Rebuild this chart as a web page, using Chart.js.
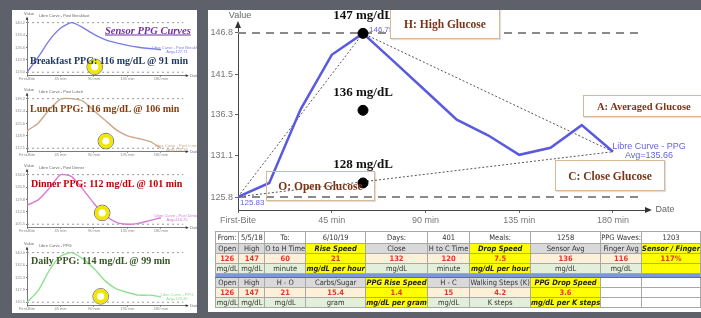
<!DOCTYPE html>
<html>
<head>
<meta charset="utf-8">
<script src="https://cdn.jsdelivr.net/npm/chart.js@4.4.1/dist/chart.umd.min.js"></script>
<style>
html, body { margin: 0; padding: 0; }
body { width: 701px; height: 318px; background: #5e6169; position: relative; overflow: hidden; font-family: "Liberation Sans", Arial, sans-serif; }
#left { position: absolute; left: 12px; top: 10px; width: 185px; height: 303px; background: #fff; overflow: hidden; }
#right { position: absolute; left: 208px; top: 10px; width: 493px; height: 302px; background: #fff; overflow: hidden; }
.mini { position: absolute; left: 0; }
.tag { position: absolute; white-space: nowrap; font-family: "Liberation Serif", "Times New Roman", serif; font-weight: bold; font-size: 10px; transform: translateY(-50%); }
.box { position: absolute; border: 1px solid #d8b797; box-shadow: 1px 1px 1px rgba(0,0,0,0.12); color: #7b3516; font-family: "Liberation Serif", "Times New Roman", serif; font-weight: bold; font-size: 11.5px; display: flex; align-items: center; justify-content: center; white-space: nowrap; }
table { position: absolute; left: 7px; top: 221px; border-collapse: collapse; table-layout: fixed; font-family: "Liberation Sans Narrow", "DejaVu Sans Condensed", sans-serif; font-size: 7.5px; color: #333; }
td { border: 1px solid #a8a8a8; padding: 0; text-align: center; height: 9px; line-height: 9px; overflow: hidden; white-space: nowrap; }
tr.info td { background: #fff; height: 11px; }
tr.head td { background: #d9d9d9; }
tr.val td { background: #fdf0d8; color: #e2362a; font-weight: bold; }
tr.unit td { background: #e2efda; }
tr td.yel { background: #ffff00; font-weight: bold; font-style: italic; color: #222; }
tr.val td.yel { color: #e2362a; font-style: normal; }
tr td.blank { background: #fff; }
tr.sep td { background: #7e97d8; height: 3px; line-height: 3px; border-top: 1px solid #4f6bbd; border-bottom: 1px solid #4f6bbd; }
</style>
</head>
<body>
<div id="left">
  <canvas id="mini1" class="mini" width="185" height="76" style="top:-1px"></canvas>
  <canvas id="mini2" class="mini" width="185" height="76" style="top:75px"></canvas>
  <canvas id="mini3" class="mini" width="185" height="76" style="top:151px"></canvas>
  <canvas id="mini4" class="mini" width="185" height="76" style="top:229px"></canvas>
  <div class="tag" style="left:93px;top:20px;color:#7030a0;font-style:italic;text-decoration:underline;font-size:10.5px;">Sensor PPG Curves</div>
  <div class="tag" style="left:18px;top:50px;color:#1f3864;">Breakfast PPG: 116 mg/dL @ 91 min</div>
  <div class="tag" style="left:18px;top:98px;color:#843c0c;">Lunch PPG: 116 mg/dL @ 106 min</div>
  <div class="tag" style="left:19px;top:173px;color:#c00000;">Dinner PPG: 112 mg/dL @ 101 min</div>
  <div class="tag" style="left:19px;top:250px;color:#375623;">Daily PPG: 114 mg/dL @ 99 min</div>
</div>
<div id="right">
  <canvas id="main" width="493" height="219" style="position:absolute;left:0;top:0"></canvas>
  <div class="box" style="left:182px;top:-2px;width:108px;height:29px;background:#fff;">H: High Glucose</div>
  <div class="box" style="left:58px;top:161px;width:107px;height:28px;">O: Open Glucose</div>
  <div class="box" style="left:375px;top:85px;width:130px;height:22px;background:#fff;font-size:10.5px;justify-content:flex-start;padding-left:13px;box-sizing:border-box;">A: Averaged Glucose</div>
  <div class="box" style="left:347px;top:150px;width:108px;height:29px;background:#fff;">C: Close Glucose</div>
  <table id="stats"></table>
</div>
<script>
// main curve (minutes after first bite, mg/dL)
var minutes = [0, 15, 30, 45, 60, 75, 90, 105, 120, 135, 150, 165, 180];
var glucose = [125.83, 127.6, 137.0, 144.0, 146.75, 143.1, 139.4, 135.7, 133.7, 131.2, 132.1, 135.0, 131.6];

var xTicks = [0, 45, 90, 135, 180];
var xTickLabels = ["First-Bite", "45 min", "90 min", "135 min", "180 min"];
var yTicks = [125.8, 131.1, 136.3, 141.5, 146.8];

// open - high - close triangle
var triangleMinutes = [0, 60, 180, 0];
var triangleValues = [125.83, 146.75, 131.6, 125.83];

// black dots and their labels
var markerMinutes = [60, 60, 60];
var markerValues = [146.75, 136.9, 127.6];
var markerLabels = ["147 mg/dL", "136 mg/dL", "128 mg/dL"];

var levelValues = [146.8, 125.8];
var levelEnd = 194;

// small curves on the left
var miniMinutes = [0, 15, 30, 45, 60, 75, 90, 105, 120, 135, 150, 165, 180];
var breakfastPPG = [113.0, 121.3, 130.5, 137.1, 140.2, 137.5, 133.8, 130.9, 129.1, 127.7, 126.7, 126.0, 125.3];
var lunchPPG = [121.6, 125.8, 133.2, 139.0, 139.2, 137.9, 132.6, 127.4, 122.1, 118.9, 117.4, 115.8, 112.1];
var dinnerPPG = [116.4, 119.5, 126.2, 134.0, 132.9, 125.7, 117.4, 110.7, 106.6, 105.5, 106.0, 107.6, 109.2];
var dailyPPG = [110.5, 117.4, 129.5, 137.9, 140.0, 136.3, 130.5, 123.2, 118.4, 116.3, 114.7, 114.7, 113.7];
var ringMinutes = [91, 106, 101, 99];
var ringValues = [116, 116, 112, 114];

// table
var infoRow = ["From:", "5/5/18", "To:", "6/10/19", "Days:", "401", "Meals:", "1258", "PPG Waves:", "1203"];
var headA = ["Open", "High", "O to H Time", "Rise Speed", "Close", "H to C Time", "Drop Speed", "Sensor Avg", "Finger Avg", "Sensor / Finger"];
var valA = ["126", "147", "60", "21", "132", "120", "7.5", "136", "116", "117%"];
var unitA = ["mg/dL", "mg/dL", "minute", "mg/dL per hour", "mg/dL", "minute", "mg/dL per hour", "mg/dL", "mg/dL", ""];
var yellowA = [3, 6, 9];
var headB = ["Open", "High", "H - O", "Carbs/Sugar", "PPG Rise Speed", "H - C", "Walking Steps (K)", "PPG Drop Speed", "", ""];
var valB = ["126", "147", "21", "15.4", "1.4", "15", "4.2", "3.6", "", ""];
var unitB = ["mg/dL", "mg/dL", "mg/dL", "gram", "mg/dL per gram", "mg/dL", "K steps", "mg/dL per K steps", "", ""];
var yellowB = [4, 7];
var colWidths = [24, 27, 41, 60, 62, 43, 61, 69, 41, 56];

function pts(xs, ys) {
  return xs.map(function (x, i) { return { x: x, y: ys[i] }; });
}

var axisDecor = {
  id: "axisDecor",
  afterDraw: function (chart, args, opts) {
    var ctx = chart.ctx, a = chart.chartArea, s = opts.size || 9;
    ctx.save();
    ctx.fillStyle = "#333";
    var h = s / 3;
    ctx.beginPath();
    ctx.moveTo(a.left, a.top - h * 1.3);
    ctx.lineTo(a.left - h, a.top + h);
    ctx.lineTo(a.left + h, a.top + h);
    ctx.fill();
    ctx.beginPath();
    ctx.moveTo(a.right + h * 1.3, a.bottom);
    ctx.lineTo(a.right - h, a.bottom - h);
    ctx.lineTo(a.right - h, a.bottom + h);
    ctx.fill();
    ctx.fillStyle = "#666";
    ctx.font = s + 'px "Liberation Sans", Arial';
    ctx.textAlign = "center";
    ctx.textBaseline = "bottom";
    ctx.fillText("Value", a.left + 2, a.top - h * 1.5);
    ctx.textAlign = "left";
    ctx.textBaseline = "middle";
    ctx.fillText("Date", a.right + h * 2.5, a.bottom);
    if (opts.title) {
      ctx.textBaseline = "bottom";
      ctx.fillText(opts.title, a.left + s * 3, a.top - 0.5);
    }
    if (opts.endNote) {
      var x = chart.scales.x, y = chart.scales.y;
      var last = opts.endPoint;
      ctx.fillStyle = opts.noteColor;
      ctx.textAlign = "center";
      ctx.textBaseline = "middle";
      ctx.fillText(opts.endNote[0], x.getPixelForValue(last[0]) + s * 4, y.getPixelForValue(last[1]) - s * 0.55);
      ctx.fillText(opts.endNote[1], x.getPixelForValue(last[0]) + s * 4, y.getPixelForValue(last[1]) + s * 0.45);
    }
    ctx.restore();
  }
};

var pointNotes = {
  id: "pointNotes",
  afterDatasetsDraw: function (chart) {
    var ctx = chart.ctx, x = chart.scales.x, y = chart.scales.y;
    ctx.save();
    ctx.font = 'bold 13px "Liberation Serif", "Times New Roman", serif';
    ctx.fillStyle = "#111";
    ctx.textAlign = "center";
    ctx.textBaseline = "middle";
    markerMinutes.forEach(function (t, i) {
      ctx.fillText(markerLabels[i], x.getPixelForValue(t), y.getPixelForValue(markerValues[i]) - 18);
    });
    ctx.font = '8px "Liberation Sans", Arial';
    ctx.fillStyle = "#6464dc";
    ctx.textAlign = "left";
    ctx.fillText(markerValues[0].toFixed(2), x.getPixelForValue(markerMinutes[0]) + 6, y.getPixelForValue(markerValues[0]) - 4);
    ctx.fillText(glucose[0].toFixed(2), x.getPixelForValue(minutes[0]) + 2, y.getPixelForValue(glucose[0]) + 6);
    ctx.restore();
  }
};

new Chart(document.getElementById("main"), {
  type: "line",
  data: {
    datasets: [
      { data: pts(markerMinutes, markerValues), showLine: false, pointRadius: 5, pointBackgroundColor: "#000", pointBorderColor: "#000", order: 0 },
      { data: pts(minutes, glucose), borderColor: "#5a5ade", borderWidth: 2.5, pointRadius: 0, order: 1 },
      { data: pts(triangleMinutes, triangleValues), borderColor: "#555", borderWidth: 1, borderDash: [2, 2], pointRadius: 0, order: 2 },
      { data: pts([0, levelEnd], [levelValues[0], levelValues[0]]), borderColor: "#8a8a8a", borderWidth: 2, borderDash: [8, 6], pointRadius: 0, order: 3 },
      { data: pts([0, levelEnd], [levelValues[1], levelValues[1]]), borderColor: "#8a8a8a", borderWidth: 2, borderDash: [8, 6], pointRadius: 0, order: 3 }
    ]
  },
  options: {
    responsive: false,
    devicePixelRatio: 1,
    animation: false,
    events: [],
    layout: { padding: { top: 15, right: 53, left: 0, bottom: 0 } },
    plugins: {
      legend: { display: false }, tooltip: { enabled: false },
      axisDecor: { size: 9, endNote: ["Libre Curve - PPG", "Avg=135.66"],
        endPoint: [minutes[minutes.length - 1], glucose[glucose.length - 1]], noteColor: "#6464dc" }
    },
    scales: {
      x: {
        type: "linear", min: 0, max: 196.8,
        afterBuildTicks: function (s) { s.ticks = xTicks.map(function (v) { return { value: v }; }); },
        afterFit: function (s) { s.height = 19; },
        ticks: { color: "#777", font: { size: 9 }, padding: 2, maxRotation: 0, autoSkip: false,
          callback: function (v) { return xTickLabels[xTicks.indexOf(v)]; } },
        grid: { drawOnChartArea: false, tickLength: 3, color: "#666" },
        border: { color: "#444", width: 1 }
      },
      y: {
        min: 124.14, max: 147.82,
        afterBuildTicks: function (s) { s.ticks = yTicks.map(function (v) { return { value: v }; }); },
        afterFit: function (s) { s.width = 30; },
        ticks: { color: "#777", font: { size: 9 }, padding: 2, callback: function (v) { return v.toFixed(1); } },
        grid: { drawOnChartArea: false, tickLength: 3, color: "#666" },
        border: { color: "#444", width: 1 }
      }
    }
  },
  plugins: [axisDecor, pointNotes]
});

function drawMini(id, values, color, ring, title, note) {
  var lo = Math.min.apply(null, values), hi = Math.max.apply(null, values);
  var span = hi - lo;
  var yMin = lo - 4 * span / 57, yMax = hi + 5 * span / 57;
  var ticks = [0, 1, 2, 3, 4].map(function (i) { return lo + i * span / 4; });
  new Chart(document.getElementById(id), {
    type: "line",
    data: {
      datasets: [
        { data: pts([ring[0]], [ring[1]]), showLine: false, pointRadius: 5.5, pointBorderWidth: 3.8, pointBorderColor: "#f2e600", pointBackgroundColor: "#fff", order: 0 },
        { data: pts([ring[0]], [ring[1]]), showLine: false, pointRadius: 7.8, pointBorderWidth: 0.8, pointBorderColor: "#555", pointBackgroundColor: "rgba(0,0,0,0)", order: 1 },
        { data: pts(miniMinutes, values), borderColor: color, borderWidth: 1.4, pointRadius: 0, tension: 0.2, order: 2 },
        { data: pts([0, 210], [hi, hi]), borderColor: "#999", borderWidth: 1, borderDash: [2, 3], pointRadius: 0, order: 3 },
        { data: pts([0, 210], [lo, lo]), borderColor: "#999", borderWidth: 1, borderDash: [2, 3], pointRadius: 0, order: 3 }
      ]
    },
    options: {
      responsive: false,
      devicePixelRatio: 1,
      animation: false,
      events: [],
      layout: { padding: { top: 5, right: 10, left: 0, bottom: 0 } },
      plugins: { legend: { display: false }, tooltip: { enabled: false },
        axisDecor: { size: 4, title: title, endNote: note, endPoint: [miniMinutes[miniMinutes.length - 1], values[values.length - 1]], noteColor: color } },
      scales: {
        x: {
          type: "linear", min: 0, max: 215,
          afterBuildTicks: function (s) { s.ticks = xTicks.map(function (v) { return { value: v }; }); },
          afterFit: function (s) { s.height = 5; },
          ticks: { color: "#888", font: { size: 4 }, padding: 0, maxRotation: 0, autoSkip: false,
            callback: function (v) { return xTickLabels[xTicks.indexOf(v)]; } },
          grid: { drawOnChartArea: false, tickLength: 1, color: "#777" },
          border: { color: "#555", width: 0.8 }
        },
        y: {
          min: yMin, max: yMax,
          afterBuildTicks: function (s) { s.ticks = ticks.map(function (v) { return { value: v }; }); },
          afterFit: function (s) { s.width = 15; },
          ticks: { color: "#888", font: { size: 4 }, padding: 1, callback: function (v) { return v.toFixed(1); } },
          grid: { drawOnChartArea: false, tickLength: 1, color: "#777" },
          border: { color: "#555", width: 0.8 }
        }
      }
    },
    plugins: [axisDecor]
  });
}

drawMini("mini1", breakfastPPG, "#7c7ce6", [ringMinutes[0], ringValues[0]], "Libre Curve - Post Breakfast", ["Libre Curve - Post Breakfast", "Avg=127.71"]);
drawMini("mini2", lunchPPG, "#c9a98b", [ringMinutes[1], ringValues[1]], "Libre Curve - Post Lunch", ["Libre Curve - Post Lunch", "Avg=126.39"]);
drawMini("mini3", dinnerPPG, "#d67ad6", [ringMinutes[2], ringValues[2]], "Libre Curve - Post Dinner", ["Libre Curve - Post Dinner", "Avg=116.75"]);
drawMini("mini4", dailyPPG, "#8fe08f", [ringMinutes[3], ringValues[3]], "Libre Curve - PPG", ["Libre Curve - PPG", "Avg=123.30"]);

// stats table
(function () {
  var t = document.getElementById("stats");
  var cg = document.createElement("colgroup");
  colWidths.forEach(function (w) { var c = document.createElement("col"); c.style.width = w + "px"; cg.appendChild(c); });
  t.appendChild(cg);
  function row(cells, cls, yellow, blankFrom) {
    var tr = document.createElement("tr");
    tr.className = cls;
    cells.forEach(function (txt, i) {
      var td = document.createElement("td");
      td.textContent = txt;
      if (yellow && yellow.indexOf(i) >= 0) td.className = "yel";
      else if (blankFrom !== undefined && i >= blankFrom) td.className = "blank";
      tr.appendChild(td);
    });
    t.appendChild(tr);
  }
  row(infoRow, "info");
  row(headA, "head", yellowA);
  row(valA, "val", yellowA);
  row(unitA, "unit", yellowA);
  var sep = document.createElement("tr");
  sep.className = "sep";
  var std = document.createElement("td");
  std.colSpan = 10;
  sep.appendChild(std);
  t.appendChild(sep);
  row(headB, "head", yellowB, 8);
  row(valB, "val", yellowB, 8);
  row(unitB, "unit", yellowB, 8);
})();
</script>
</body>
</html>
